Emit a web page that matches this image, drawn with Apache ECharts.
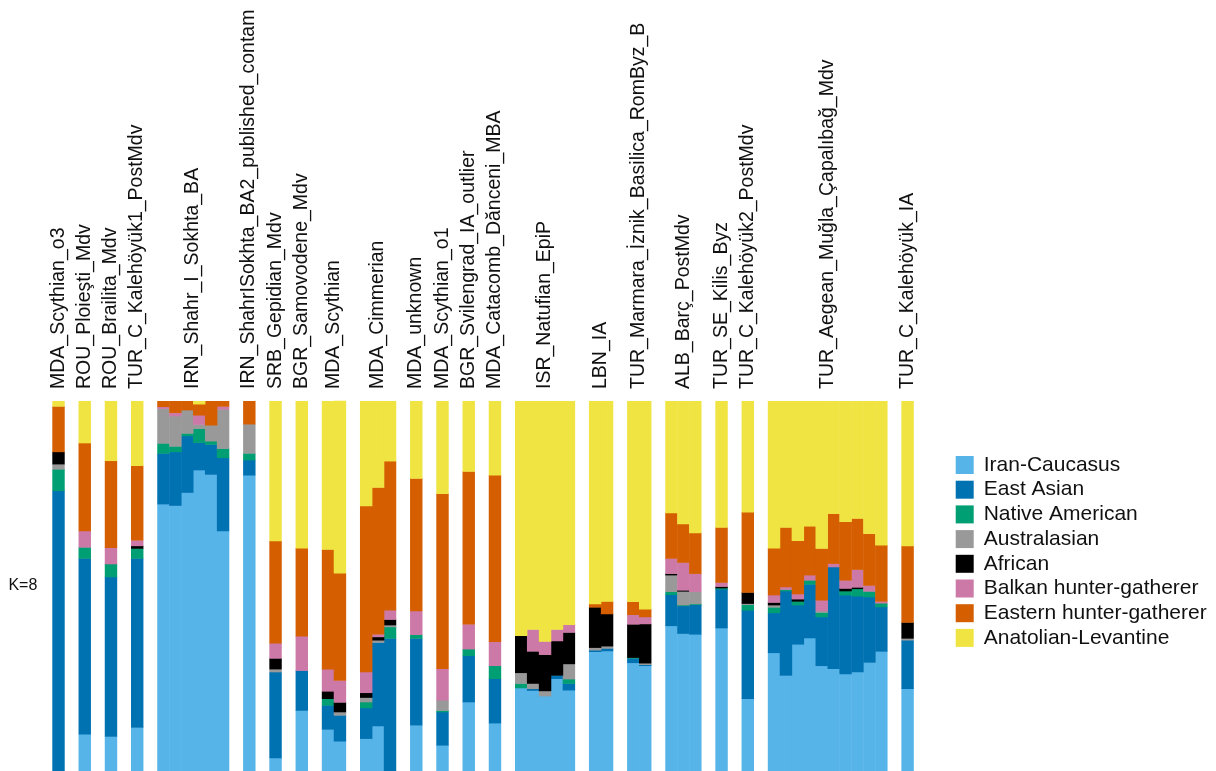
<!DOCTYPE html>
<html>
<head>
<meta charset="utf-8">
<title>ADMIXTURE K=8</title>
<script src="https://cdn.jsdelivr.net/npm/echarts@6/dist/echarts.min.js"></script>
<style>
  html, body { margin: 0; padding: 0; background: #ffffff; }
  #chart { width: 1216px; height: 771px; }
</style>
</head>
<body>
<div id="chart"></div>
<script>
// Population groups, left to right, and the number of individuals in each
const groups = [
  'MDA_Scythian_o3', 'ROU_Ploieşti_Mdv', 'ROU_Brailita_Mdv', 'TUR_C_Kalehöyük1_PostMdv',
  'IRN_Shahr_I_Sokhta_BA', 'IRN_ShahrISokhta_BA2_published_contam', 'SRB_Gepidian_Mdv',
  'BGR_Samovodene_Mdv', 'MDA_Scythian', 'MDA_Cimmerian', 'MDA_unknown', 'MDA_Scythian_o1',
  'BGR_Svilengrad_IA_outlier', 'MDA_Catacomb_Dănceni_MBA', 'ISR_Natufian_EpiP', 'LBN_IA',
  'TUR_Marmara_İznik_Basilica_RomByz_B', 'ALB_Barç_PostMdv', 'TUR_SE_Kilis_Byz',
  'TUR_C_Kalehöyük2_PostMdv', 'TUR_Aegean_Muğla_Çapalıbağ_Mdv', 'TUR_C_Kalehöyük_IA'
];
const groupSizes = [1, 1, 1, 1, 6, 1, 1, 1, 2, 3, 1, 1, 1, 1, 5, 2, 2, 3, 1, 1, 10, 1];

// Ancestry components (stacked bottom to top) and their colours
const components = [
  'Iran-Caucasus', 'East Asian', 'Native American', 'Australasian',
  'African', 'Balkan hunter-gatherer', 'Eastern hunter-gatherer', 'Anatolian-Levantine'
];
const componentColors = ['#56B4E9', '#0072B2', '#009E73', '#999999', '#000000', '#CC79A7', '#D55E00', '#F0E442'];

// Per-individual ancestry proportions, one array per component (47 individuals)
const iranCaucasus = [
  0, .100, .094, .118,
  .722, .718, .753, .814, .802, .649,
  .800, .036, .164, .113, .081, .088, .122, 0, .124, .070, .187, .130,
  .225, .218, .203, .250, .219,
  .323, .325, .293, .285, .393, .372, .370, .387, .196,
  .320, .259, .343, .360, .285, .277, .263, .268, .294, .324,
  .223
];
const eastAsian = [
  .758, .475, .431, .457,
  .137, .145, .153, .074, .081, .198,
  .041, .232, .108, .065, .070, .083, .226, .359, .235, .090, .125, .120,
  0, .005, 0, .009, .018,
  .004, .007, .012, .003, .084, .075, .080, .105, .239,
  .108, .228, .106, .145, .132, .275, .213, .205, .177, .120,
  .131
];
const nativeAmerican = [
  .058, .030, .035, .027,
  .027, .015, .007, .038, .009, .025,
  .018, 0, 0, .018, 0, .016, 0, .031, .010, .004, .018, .035,
  .012, 0, 0, 0, .012,
  0, 0, .002, 0, .008, .002, .002, .003, .015,
  .015, .004, .010, .011, .012, 0, .011, .020, .015, .010,
  0
];
const australasian = [
  .014, 0, 0, 0,
  .094, .082, .063, .011, .043, .106,
  .079, .008, 0, 0, .009, .012, .006, .005, 0, .028, 0, 0,
  .029, .014, .014, 0, .041,
  .007, .006, 0, .004, .045, .037, .033, 0, .003,
  .006, 0, 0, 0, .004, 0, 0, 0, 0, 0,
  .005
];
const african = [
  .033, 0, 0, .007,
  0, 0, 0, 0, 0, 0,
  0, .029, 0, .020, .026, .013, .009, .015, 0, 0, 0, 0,
  .100, .087, .098, .093, .085,
  .109, .087, .090, .106, .004, .003, 0, .004, .030,
  .007, 0, .006, 0, 0, 0, .007, .004, 0, 0,
  .043
];
const balkanHG = [
  0, .044, .044, .015,
  .005, .009, 0, .025, 0, .008,
  0, .041, .093, .060, .059, .056, .007, .025, .064, .085, .067, .065,
  0, .059, .036, .031, .021,
  0, 0, .026, .019, .041, .075, .049, .011, 0,
  .020, .007, .014, .014, .029, .009, .022, .048, .016, .005,
  0
];
const easternHG = [
  .123, .238, .235, .202,
  .015, .031, .024, .030, .065, .014,
  .062, .276, .238, .323, .290, .449, .397, .403, .358, .473, .413, .450,
  0, 0, 0, 0, 0,
  .009, .034, .035, .021, .123, .104, .110, .149, .217,
  .127, .161, .144, .132, .140, .135, .158, .138, .140, .152,
  .207
];
const anatolianLevantine = [
  .014, .113, .161, .174,
  0, 0, 0, .008, 0, 0,
  0, .378, .397, .401, .466, .283, .233, .162, .209, .250, .190, .200,
  .634, .617, .649, .617, .604,
  .548, .541, .542, .562, .302, .332, .356, .341, .300,
  .397, .341, .377, .338, .398, .304, .326, .317, .358, .389,
  .391
];
const componentValues = [iranCaucasus, eastAsian, nativeAmerican, australasian,
  african, balkanHG, easternHG, anatolianLevantine];

// Layout along the x axis: each individual takes one unit, groups separated by a gap
const GAP = 1.2;
const positions = [];
const groupCenters = [];
let cursor = 0;
groupSizes.forEach((n, g) => {
  groupCenters.push(cursor + n / 2);
  for (let i = 0; i < n; i++) positions.push(cursor + i + 0.5);
  cursor += n + (g < groupSizes.length - 1 ? GAP : 0);
});
const xMax = cursor;

const labelByKey = {};
groupCenters.forEach((c, i) => { labelByKey[Math.round(c * 100)] = groups[i]; });

// Stack the components per individual: each segment runs from base to top
const runningBase = positions.map(() => 0);
const stackedData = componentValues.map((vals) =>
  positions.map((x, i) => {
    const base = runningBase[i];
    const top = base + vals[i];
    runningBase[i] = top;
    return [x, base, top];
  })
);

// One rectangle per individual and component, placed through the axes' scales
function renderSegment(params, api) {
  const x = api.value(0);
  const base = api.value(1);
  const top = api.value(2);
  if (top - base <= 0) return null;
  const p0 = api.coord([x - 0.5, top]);
  const p1 = api.coord([x + 0.5, base]);
  return {
    type: 'rect',
    shape: {
      x: p0[0],
      y: p0[1],
      width: p1[0] - p0[0] + 0.5,
      height: p1[1] - p0[1] + 0.5
    },
    style: { fill: api.visual('color') }
  };
}

const FONT = '"Liberation Sans", Arial, Helvetica, sans-serif';

const chart = echarts.init(document.getElementById('chart'), null, { renderer: 'canvas' });

const series = components.map((name, k) => ({
  name: name,
  type: 'custom',
  renderItem: renderSegment,
  itemStyle: { color: componentColors[k] },
  encode: { x: 0, y: [1, 2] },
  emphasis: { disabled: true },
  animation: false,
  data: stackedData[k]
}));

chart.setOption({
  backgroundColor: '#ffffff',
  animation: false,
  grid: { left: 52.3, right: 302.7, top: 401, bottom: 0 },
  xAxis: {
    type: 'value',
    position: 'top',
    min: 0,
    max: xMax,
    axisLine: { show: false },
    axisTick: { show: false },
    splitLine: { show: false },
    axisLabel: {
      customValues: groupCenters,
      rotate: 90,
      margin: 12,
      fontSize: 19.5,
      fontFamily: FONT,
      color: '#111111',
      formatter: (v) => labelByKey[Math.round(v * 100)] || ''
    }
  },
  yAxis: {
    type: 'value',
    min: 0,
    max: 1,
    axisLine: { show: false },
    axisTick: { show: false },
    axisLabel: { show: false },
    splitLine: { show: false },
    name: 'K=8',
    nameLocation: 'middle',
    nameRotate: 0,
    nameGap: 15,
    nameTextStyle: { fontSize: 16, fontFamily: FONT, color: '#111111', padding: [16, 0, 0, 0] }
  },
  legend: {
    orient: 'vertical',
    left: 955.7,
    top: 454.5,
    padding: 0,
    icon: 'rect',
    itemWidth: 18,
    itemHeight: 18,
    itemGap: 3.7,
    selectedMode: false,
    textStyle: { fontSize: 21, fontFamily: FONT, color: '#111111', padding: [0, 0, 0, 5] },
    data: components
  },
  series: series
});
</script>
</body>
</html>
